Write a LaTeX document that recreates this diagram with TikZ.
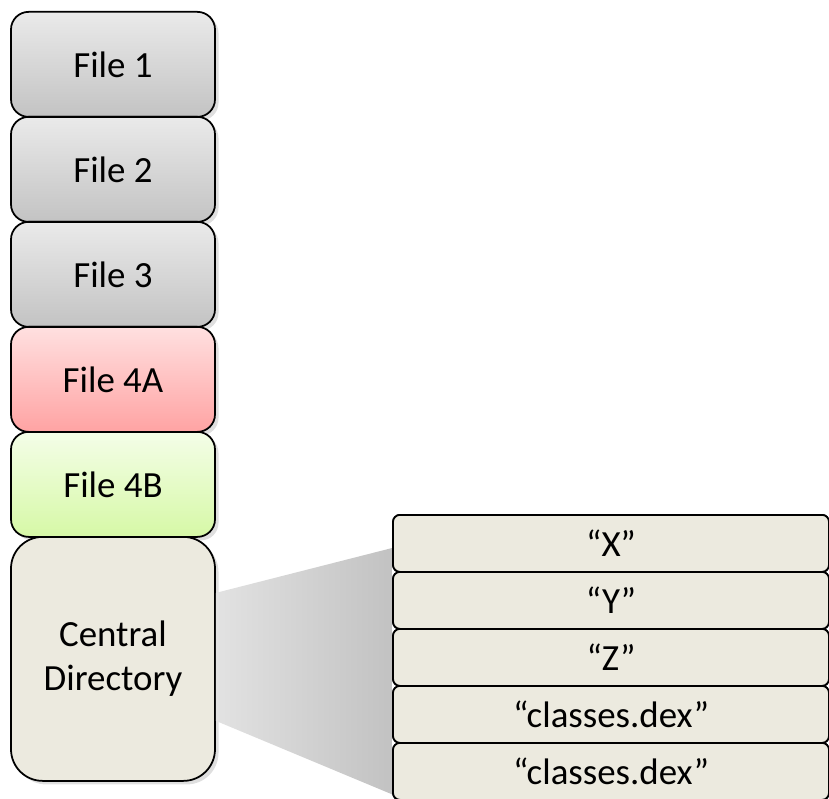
\documentclass[tikz,border=0pt]{standalone}
\usepackage{fontspec}
\setmainfont{Carlito}
\usepackage{xcolor}
\usetikzlibrary{positioning}
\usetikzlibrary{shadows}
\usetikzlibrary{calc}

\definecolor{grayTop}{HTML}{EAEAEA}
\definecolor{grayBot}{HTML}{C3C3C3}
\definecolor{redTop}{HTML}{FFE0E0}
\definecolor{redBot}{HTML}{FFA3A3}
\definecolor{greenTop}{HTML}{F4FEE8}
\definecolor{greenBot}{HTML}{D6F8A6}
\definecolor{dirFill}{HTML}{ECEADF}
\definecolor{fanLeft}{HTML}{E2E2E2}
\definecolor{fanRight}{HTML}{C2C2C2}

\begin{document}
\begin{tikzpicture}[filebox/.style={draw=black,line width=1pt,rounded corners=10pt,
				minimum width=4.08cm,minimum height=2.1cm,inner sep=0pt,
				font=\fontsize{21}{25}\selectfont,
				drop shadow={opacity=0.25,shadow xshift=2pt,shadow yshift=-2pt}},
				entrybox/.style={draw=black,line width=1pt,rounded corners=4pt,fill=dirFill,
				minimum width=8.72cm,minimum height=1.14cm,inner sep=0pt,
				font=\fontsize{21}{25}\selectfont},
				node distance=-1pt]
			 \useasboundingbox (0,0) rectangle (16.58,15.96);
			 % local files
			 \node[filebox,top color=grayTop,bottom color=grayBot,anchor=north] (f1) at (2.26,15.74) {File 1};
			 \node[filebox,top color=grayTop,bottom color=grayBot,below=of f1] (f2) {File 2};
			 \node[filebox,top color=grayTop,bottom color=grayBot,below=of f2] (f3) {File 3};
			 \node[filebox,top color=redTop,bottom color=redBot,below=of f3] (f4a) {File 4A};
			 \node[filebox,top color=greenTop,bottom color=greenBot,below=of f4a] (f4b) {File 4B};
			 \node[filebox,fill=dirFill,rounded corners=18pt,minimum height=4.88cm,
				align=center,below=of f4b] (cd) {Central\\Directory};
			 % directory entries
			 \node[entrybox,anchor=north] (ex) at (12.22,5.68) {``X''};
			 \node[entrybox,below=of ex] (ey) {``Y''};
			 \node[entrybox,below=of ey] (ez) {``Z''};
			 \node[entrybox,below=of ez] (ec1) {``classes.dex''};
			 \node[entrybox,below=of ec1] (ec2) {``classes.dex''};
			 % zoom fan
			 \coordinate (fanA) at ($(cd.east)+(0,1.32)$);
			 \coordinate (fanB) at ($(cd.east)+(0,-1.24)$);
			 \coordinate (fanC) at ($(ex.north west)+(0,-0.68)$);
			 \coordinate (fanD) at ($(ec2.west)+(0,-0.46)$);
			 \shade[left color=fanLeft,right color=fanRight] (fanA) -- (fanC) -- (fanD) -- (fanB) -- cycle;
			 \node[entrybox] at (ex) {``X''};
			 \node[entrybox] at (ey) {``Y''};
			 \node[entrybox] at (ez) {``Z''};
			 \node[entrybox] at (ec1) {``classes.dex''};
			 \node[entrybox] at (ec2) {``classes.dex''};
			\end{tikzpicture}
\end{document}
